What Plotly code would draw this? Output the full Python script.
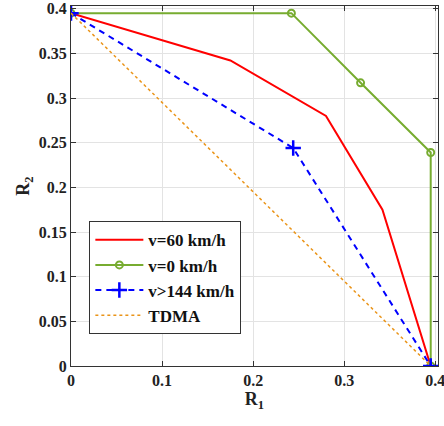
import plotly.graph_objects as go

r1_v60 = [0, 0.175, 0.28, 0.342, 0.395]
r2_v60 = [0.395, 0.342, 0.28, 0.175, 0]
r1_v0 = [0, 0.242, 0.318, 0.395, 0.395]
r2_v0 = [0.395, 0.395, 0.317, 0.239, 0]
r1_v144 = [0, 0.244, 0.395]
r2_v144 = [0.395, 0.244, 0]
r1_tdma = [0, 0.395]
r2_tdma = [0.395, 0]

xticks = [0, 0.1, 0.2, 0.3, 0.4]
yticks = [0, 0.05, 0.1, 0.15, 0.2, 0.25, 0.3, 0.35, 0.4]
xticklabels = ["0", "0.1", "0.2", "0.3", "0.4"]
yticklabels = ["0", "0.05", "0.1", "0.15", "0.2", "0.25", "0.3", "0.35", "0.4"]
names = ["v=60 km/h", "v=0 km/h", "v>144 km/h", "TDMA"]

fig = go.Figure()
fig.add_trace(go.Scatter(x=r1_v60, y=r2_v60, mode="lines", name=names[0],
                         line=dict(color="#ff0000", width=2)))
fig.add_trace(go.Scatter(x=r1_v0, y=r2_v0, mode="lines+markers", name=names[1],
                         line=dict(color="#77ac30", width=2),
                         marker=dict(symbol="circle-open", size=7, color="#77ac30", line=dict(width=2))))
fig.add_trace(go.Scatter(x=r1_v144, y=r2_v144, mode="lines+markers", name=names[2],
                         line=dict(color="#0000ff", width=2, dash="6px,5px"),
                         marker=dict(symbol="cross-thin-open", size=11, color="#0000ff", line=dict(width=2.5, color="#0000ff"))))
fig.add_trace(go.Scatter(x=r1_tdma, y=r2_tdma, mode="lines", name=names[3],
                         line=dict(color="#ea9418", width=1.5, dash="dot")))

tfont = dict(family="Liberation Serif", size=16, color="#222222", weight="bold")
axis_common = dict(showgrid=True, gridcolor="#e3e3e3", gridwidth=1, zeroline=False,
                   showline=True, linecolor="#333333", linewidth=1, mirror="allticks",
                   ticks="inside", ticklen=5, tickcolor="#333333", automargin=False,
                   ticklabeloverflow="allow", tickfont=tfont)

fig.update_layout(
    width=444, height=426,
    margin=dict(l=71, r=6, t=6, b=60),
    plot_bgcolor="white", paper_bgcolor="white",
    font=dict(family="Liberation Serif", size=16, color="#222222"),
    xaxis=dict(range=[0, 0.403], tickvals=xticks, ticktext=xticklabels,
               title=dict(text="<b>R<sub>1</sub></b>", font=dict(size=18), standoff=4), **axis_common),
    yaxis=dict(range=[0, 0.403], tickvals=yticks, ticktext=yticklabels,
               title=dict(text="<b>R<sub>2</sub></b>", font=dict(size=18), standoff=4), **axis_common),
    legend=dict(x=0.05, y=0.402, xanchor="left", yanchor="top",
                bgcolor="white", bordercolor="#333333", borderwidth=1,
                font=dict(family="Liberation Serif", size=17, color="#111111", weight="bold"),
                tracegroupgap=0, itemwidth=48),
    showlegend=True,
)
fig.write_html("out.html", config={"displayModeBar": False},
               post_script="document.body.style.margin='0';document.body.style.padding='0';document.body.style.overflow='hidden';")
